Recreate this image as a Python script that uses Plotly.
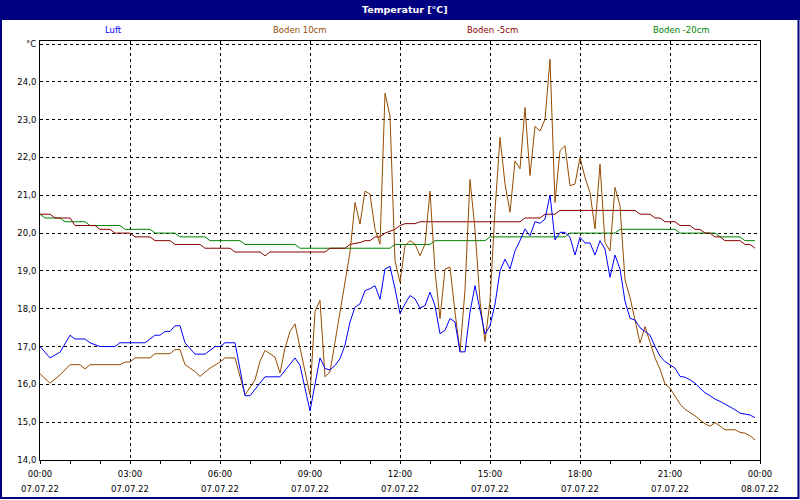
import plotly.graph_objects as go

# ---------------- data ----------------
series_names = ["Luft", "Boden 10cm", "Boden -5cm", "Boden -20cm"]

luft_min = [0, 20, 40, 60, 70, 90, 100, 120, 150, 160, 210, 230, 240, 250, 260, 270, 280, 290, 310, 330,
            350, 360, 370, 390, 410, 420, 450, 480, 510, 520, 540, 560, 570, 580, 590, 600, 610, 620, 630, 640,
            650, 660, 670, 680, 690, 700, 710, 720, 730, 740, 750, 760, 770, 780, 790, 800, 810, 820, 830, 840,
            850, 860, 870, 880, 890, 900, 910, 920, 930, 940, 950, 960, 970, 980, 990, 1000, 1010, 1020, 1030, 1040,
            1050, 1060, 1070, 1080, 1090, 1100, 1110, 1120, 1130, 1140, 1150, 1160, 1170, 1180, 1190, 1200, 1210,
            1220, 1230, 1240, 1250, 1260, 1270, 1280, 1290, 1300, 1310, 1320, 1330, 1340, 1350, 1360, 1370, 1380,
            1390, 1400, 1410, 1420, 1430]
luft_val = [17.0, 16.7, 16.85, 17.3, 17.2, 17.2, 17.1, 17.0, 17.0, 17.1, 17.1, 17.3, 17.3, 17.4, 17.4, 17.55, 17.55, 17.1, 16.8, 16.8,
            17.0, 17.0, 17.1, 17.1, 15.7, 15.7, 16.2, 16.2, 16.7, 16.5, 15.3, 16.7, 16.42, 16.38, 16.5, 16.68, 17.04, 17.65, 18.04, 18.13,
            18.48, 18.53, 18.61, 18.25, 19.05, 19.12, 18.53, 17.87, 18.13, 18.35, 18.26, 18.02, 18.08, 18.44, 18.08, 17.34, 17.43, 17.74, 17.65, 16.86,
            16.86, 17.91, 18.61, 17.93, 17.33, 17.55, 18.12, 19.0, 19.31, 19.05, 19.53, 19.8, 20.11, 19.93, 20.3, 20.26, 20.37, 21.01, 19.82, 20.02,
            20.02, 19.89, 19.42, 19.89, 19.74, 19.74, 19.42, 19.8, 19.58, 18.83, 19.42, 19.05, 18.2, 17.75, 17.7, 17.5, 17.4,
            17.3, 17.0, 16.75, 16.6, 16.52, 16.43, 16.21, 16.19, 16.12, 16.03, 15.9, 15.78, 15.7, 15.61, 15.55, 15.48, 15.4,
            15.33, 15.24, 15.21, 15.19, 15.12]

b10_min = [0, 20, 40, 60, 80, 90, 100, 160, 170, 180, 190, 220, 230, 260, 270, 280, 290, 310, 320, 340,
           360, 370, 390, 410, 430, 440, 450, 470, 480, 490, 500, 510, 540, 550, 560, 570, 580, 590, 600, 610,
           620, 630, 640, 650, 660, 670, 680, 690, 700, 710, 720, 730, 740, 750, 760, 770, 780, 790, 800, 810,
           820, 830, 840, 850, 860, 870, 880, 890, 900, 910, 920, 930, 940, 950, 960, 970, 980, 990, 1000, 1010,
           1020, 1030, 1040, 1050, 1060, 1070, 1080, 1090, 1100, 1110, 1120, 1130, 1140, 1150, 1160, 1170, 1180,
           1190, 1200, 1210, 1220, 1230, 1240, 1250, 1260, 1270, 1280, 1290, 1300, 1310, 1320, 1330, 1340, 1350,
           1360, 1370, 1380, 1390, 1400, 1410, 1420, 1430]
b10_val = [16.28, 16.03, 16.25, 16.52, 16.52, 16.41, 16.52, 16.52, 16.59, 16.59, 16.7, 16.7, 16.81, 16.81, 16.92, 16.92, 16.52, 16.34, 16.21, 16.43,
           16.59, 16.7, 16.7, 15.72, 16.12, 16.61, 16.9, 16.72, 16.3, 16.96, 17.4, 17.6, 15.72, 17.93, 18.22, 16.2, 16.33, 17.12, 17.91, 18.61,
           19.49, 20.81, 20.24, 21.11, 21.03, 20.1, 19.71, 23.7, 23.1, 19.27, 18.7, 19.67, 19.8, 19.71, 19.4, 19.71, 21.11, 19.0, 17.74, 19.05,
           19.1, 17.91, 16.86, 18.5, 21.42, 20.1, 18.2, 17.13, 18.2, 20.6, 22.53, 21.3, 20.55, 21.91, 21.7, 23.32, 21.52, 22.82, 22.7, 23.01,
           24.6, 20.81, 22.18, 22.31, 21.25, 21.3, 22.0, 21.47, 21.07, 20.11, 21.82, 19.75, 19.53, 21.21, 20.72, 18.76, 18.3,
           17.7, 17.09, 17.53, 17.1, 16.7, 16.4, 16.01, 15.9, 15.68, 15.48, 15.34, 15.26, 15.17, 15.06, 14.96, 14.89, 14.99,
           14.9, 14.8, 14.8, 14.8, 14.73, 14.71, 14.64, 14.53]

b5_min = [0, 20, 30, 60, 70, 110, 120, 140, 150, 180, 190, 220, 230, 260, 270, 320, 330, 380, 390, 440,
          450, 460, 570, 580, 610, 620, 640, 650, 660, 670, 680, 690, 700, 710, 720, 730, 750, 760, 960, 970,
          1000, 1010, 1030, 1040, 1190, 1200, 1220, 1230, 1240, 1250, 1270, 1280, 1300, 1310, 1320, 1330, 1340,
          1350, 1360, 1370, 1400, 1410, 1420, 1430]
b5_val = [20.5, 20.5, 20.4, 20.4, 20.2, 20.2, 20.1, 20.1, 20.0, 20.0, 19.9, 19.9, 19.8, 19.8, 19.7, 19.7, 19.6, 19.6, 19.5, 19.5,
          19.4, 19.5, 19.5, 19.6, 19.6, 19.7, 19.75, 19.8, 19.8, 19.9, 19.9, 20.0, 20.05, 20.1, 20.2, 20.25, 20.25, 20.3, 20.3, 20.4,
          20.4, 20.5, 20.5, 20.6, 20.6, 20.5, 20.5, 20.4, 20.4, 20.3, 20.3, 20.2, 20.2, 20.1, 20.1, 20.0, 20.0,
          19.9, 19.9, 19.8, 19.8, 19.7, 19.7, 19.6]

b20_min = [0, 10, 40, 50, 90, 100, 160, 170, 220, 230, 270, 280, 330, 340, 400, 410, 510, 520, 700, 710,
           780, 790, 890, 900, 1050, 1060, 1150, 1160, 1270, 1280, 1350, 1360, 1400, 1410, 1430]
b20_val = [20.5, 20.4, 20.4, 20.3, 20.3, 20.2, 20.2, 20.1, 20.1, 20.0, 20.0, 19.9, 19.9, 19.8, 19.8, 19.7, 19.7, 19.6, 19.6, 19.7,
           19.7, 19.8, 19.8, 19.9, 19.9, 20.0, 20.0, 20.1, 20.1, 20.0, 20.0, 19.9, 19.9, 19.8, 19.8]

x_tick_vals = [0, 180, 360, 540, 720, 900, 1080, 1260, 1440]
x_tick_time = ["00:00", "03:00", "06:00", "09:00", "12:00", "15:00", "18:00", "21:00", "00:00"]
x_tick_date = ["07.07.22", "07.07.22", "07.07.22", "07.07.22", "07.07.22", "07.07.22", "07.07.22", "07.07.22", "08.07.22"]
y_tick_vals = [14, 15, 16, 17, 18, 19, 20, 21, 22, 23, 24, 25]
y_tick_text = ["14,0", "15,0", "16,0", "17,0", "18,0", "19,0", "20,0", "21,0", "22,0", "23,0", "24,0", "°C"]
title_text = "Temperatur [°C]"

# ---------------- style ----------------
colors = ["#0000FF", "#964B00", "#8B0000", "#008000"]
FONT = "DejaVu Sans"
FS = 8.5
W, H = 800, 500
L, R, T, B = 40, 40, 41, 40
PW, PH = W - L - R, H - T - B


def px(x):
    return (x - L) / PW


def py(y):
    return (H - B - y) / PH


fig = go.Figure()
data = [(luft_min, luft_val), (b10_min, b10_val), (b5_min, b5_val), (b20_min, b20_val)]
for idx in [3, 2, 1, 0]:
    xs, ys = data[idx]
    fig.add_trace(go.Scatter(x=xs, y=ys, mode="lines", name=series_names[idx],
                             line=dict(color=colors[idx], width=1), hoverinfo="skip"))

# invisible trace to carry the second (date) x axis
fig.add_trace(go.Scatter(x=[0, 1440], y=[14, 14], xaxis="x2", mode="lines",
                         line=dict(width=0), showlegend=False, hoverinfo="skip"))

tf = dict(family=FONT, size=FS, color="black")
fig.update_layout(
    width=W, height=H,
    margin=dict(l=L, r=R, t=T, b=B, pad=0, autoexpand=False),
    paper_bgcolor="white", plot_bgcolor="white",
    showlegend=False,
    font=tf,
    xaxis=dict(range=[0, 1440], tickvals=x_tick_vals, ticktext=x_tick_time,
               showgrid=True, gridcolor="black", griddash="dot", gridwidth=1,
               showline=True, linecolor="black", linewidth=1, mirror=True,
               ticks="outside", ticklen=3, tickcolor="black", tickwidth=1,
               minor=dict(dtick=60, tick0=0, ticks="outside", ticklen=3, tickcolor="black", showgrid=False),
               zeroline=False, tickfont=tf, ticklabelstandoff=3, automargin=False),
    xaxis2=dict(range=[0, 1440], overlaying="x", anchor="y", side="bottom",
                tickvals=x_tick_vals, ticktext=x_tick_date, showgrid=False, zeroline=False,
                ticks="", showline=False, tickfont=tf, ticklabelstandoff=22, automargin=False),
    yaxis=dict(range=[14, 25.08], tickvals=y_tick_vals, ticktext=y_tick_text,
               showgrid=True, gridcolor="black", griddash="dot", gridwidth=1,
               showline=True, linecolor="black", linewidth=1, mirror=True,
               ticks="", zeroline=False, tickfont=tf, ticklabelstandoff=1, automargin=False),
)

# title bar and outer frame
fig.add_shape(type="rect", xref="paper", yref="paper", x0=px(0), x1=px(W), y0=py(20), y1=py(0),
              fillcolor="#000080", line=dict(width=0), layer="above")
fig.add_shape(type="rect", xref="paper", yref="paper", x0=px(1), x1=px(W - 1.5), y0=py(H - 2), y1=py(1),
              fillcolor="rgba(0,0,0,0)", line=dict(color="#000080", width=2), layer="above")
fig.add_annotation(text="<b>" + title_text + "</b>", xref="paper", yref="paper", x=px(405), y=py(10),
                   showarrow=False, font=dict(family=FONT, size=9.5, color="white"),
                   xanchor="center", yanchor="middle")

# legend labels across the top
legend_centers = [113, 300, 492, 681]
for name, col, cx in zip(series_names, colors, legend_centers):
    fig.add_annotation(text=name, xref="paper", yref="paper", x=px(cx), y=py(30),
                       showarrow=False, font=dict(family=FONT, size=FS, color=col),
                       xanchor="center", yanchor="middle")

fig.write_html("out.html", config={"displayModeBar": False},
               post_script="document.body.style.margin='0px';")
